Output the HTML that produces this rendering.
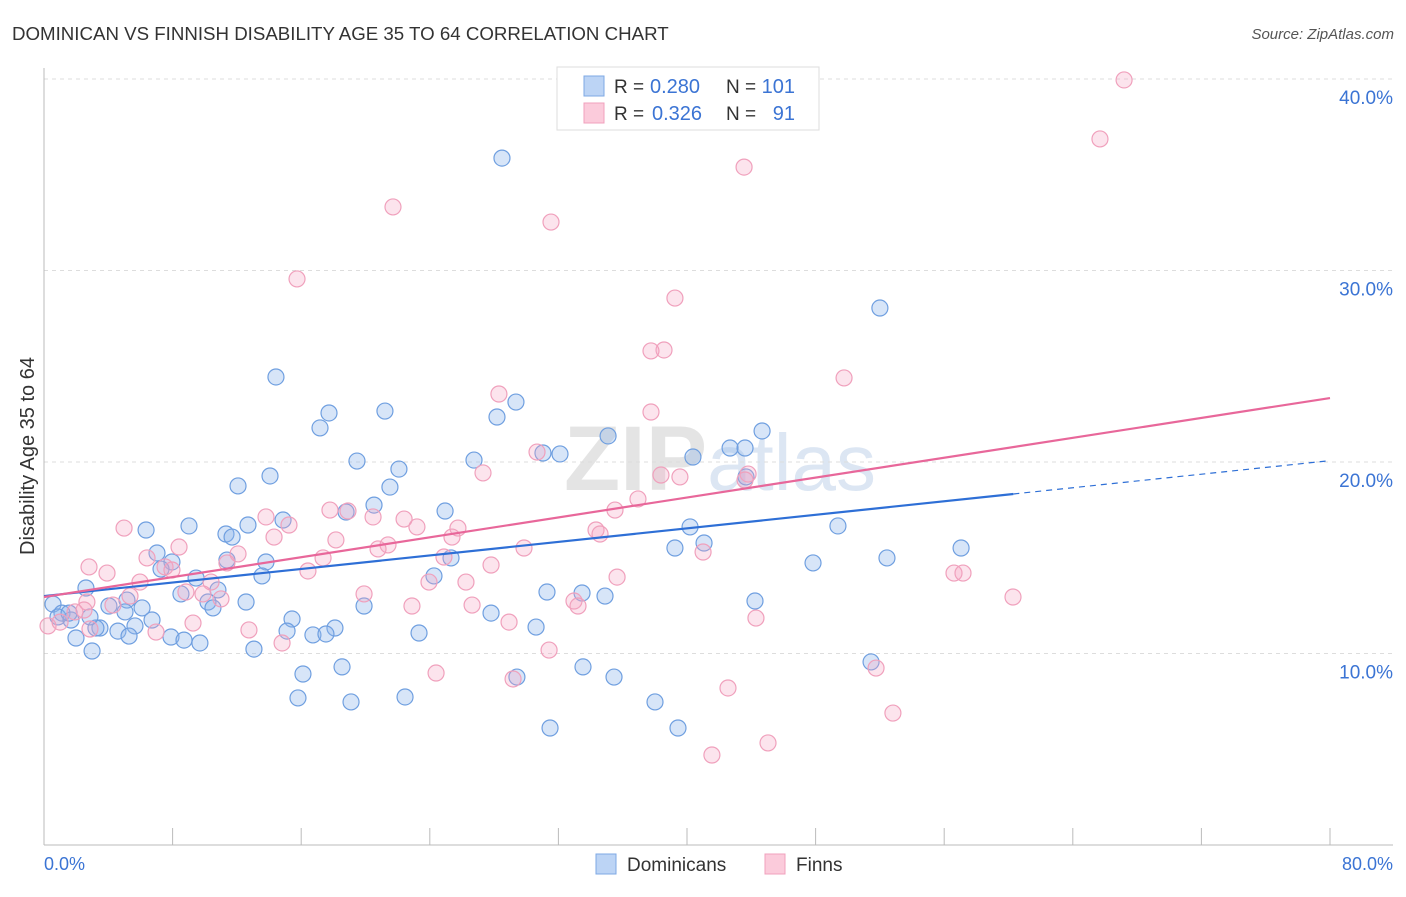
<!DOCTYPE html>
<html><head><meta charset="utf-8">
<style>
body{margin:0;background:#fff;font-family:"Liberation Sans",sans-serif;}
svg text{font-family:"Liberation Sans",sans-serif;}
</style></head><body>
<svg id="chart" width="1406" height="892" xmlns="http://www.w3.org/2000/svg">
<text x="12" y="40" font-size="18.7" fill="#333">DOMINICAN VS FINNISH DISABILITY AGE 35 TO 64 CORRELATION CHART</text>
<text x="1394" y="39" font-size="15" fill="#555" text-anchor="end" font-style="italic">Source: ZipAtlas.com</text>
<text x="720" y="490" font-size="92" fill="#e4e4e4" text-anchor="middle" font-weight="bold">ZIP<tspan fill="#dce6f3" font-weight="normal" font-size="80">atlas</tspan></text>
<g id="grid"></g>
<g id="axes"></g>
<g id="points"></g>
<g id="lines"></g>
<text transform="translate(34,456) rotate(-90)" font-size="20" fill="#333" text-anchor="middle">Disability Age 35 to 64</text>
<text x="44" y="870" font-size="18" fill="#3b74d4">0.0%</text>
<text x="1393" y="870" font-size="18" fill="#3b74d4" text-anchor="end">80.0%</text>
<g>
<rect x="557" y="67" width="262" height="63" fill="#fff" stroke="#ddd"/>
<rect x="584" y="76" width="20" height="20" fill="#bcd4f5" stroke="#7ea8e4"/>
<rect x="584" y="103" width="20" height="20" fill="#fbcbdb" stroke="#f0a0bc"/>
<text x="614" y="93" font-size="19" fill="#333">R =</text>
<text x="650" y="93" font-size="20" fill="#3b74d4">0.280</text>
<text x="726" y="93" font-size="19" fill="#333">N =</text>
<text x="795" y="93" font-size="20" fill="#3b74d4" text-anchor="end">101</text>
<text x="614" y="120" font-size="19" fill="#333">R =</text>
<text x="652" y="120" font-size="20" fill="#3b74d4">0.326</text>
<text x="726" y="120" font-size="19" fill="#333">N =</text>
<text x="795" y="120" font-size="20" fill="#3b74d4" text-anchor="end">91</text>
</g>
<g>
<rect x="596" y="854" width="20" height="20" fill="#bcd4f5" stroke="#7ea8e4"/>
<text x="627" y="871" font-size="19" fill="#333">Dominicans</text>
<rect x="765" y="854" width="20" height="20" fill="#fbcbdb" stroke="#f0a0bc"/>
<text x="796" y="871" font-size="19" fill="#333">Finns</text>
</g>
</svg>
<script>
const yTicks=[10,20,30,40];
const yTickLabels=["10.0%","20.0%","30.0%","40.0%"];
const xTicks=[0,8,16,24,32,40,48,56,64,72,80];
const blueX=[28.49,52.0,14.43,17.73,21.21,28.18,29.36,17.17,35.09,44.67,42.68,43.61,40.37,19.47,26.75,31.04,32.10,22.08,14.06,43.67,12.07,21.52,20.53,18.79,24.95,9.02,6.35,12.69,14.87,11.32,11.70,40.19,49.39,41.06,39.25,57.05,7.03,11.38,13.81,7.96,7.28,52.44,47.84,25.32,24.26,13.56,9.46,2.61,8.52,10.82,31.29,33.47,34.90,44.23,10.20,12.57,5.16,4.04,0.56,1.12,6.10,19.91,10.51,0.87,1.68,6.72,15.43,27.81,5.66,3.48,3.23,4.60,18.10,30.61,1.99,5.29,7.90,15.12,16.73,17.54,23.33,8.71,9.70,2.99,13.06,51.45,18.54,33.53,16.11,29.42,35.46,15.80,22.46,19.10,38.01,31.48,39.44,1.56,2.86,5.04];
const blueY=[35.87,28.04,24.44,22.56,22.66,22.35,23.13,21.78,21.36,21.62,20.73,20.73,20.26,20.05,20.10,20.47,20.42,19.63,19.27,19.22,18.75,18.69,17.75,17.39,17.44,16.66,16.45,16.71,16.97,16.24,16.08,16.61,16.66,15.77,15.51,15.51,15.25,14.88,14.78,14.78,14.41,14.99,14.73,14.99,14.05,14.05,13.94,13.42,13.11,13.32,13.21,13.16,13.00,12.74,12.69,12.69,12.79,12.48,12.58,12.11,12.38,12.48,12.38,11.91,11.75,11.75,11.80,12.11,11.44,11.33,11.33,11.17,11.33,11.38,10.81,10.91,10.86,11.17,10.97,11.02,11.07,10.70,10.55,10.13,10.23,9.56,9.30,9.30,8.93,8.77,8.77,7.68,7.73,7.47,7.47,6.11,6.11,12.11,11.91,12.17];
const pinkX=[67.19,65.69,43.55,21.71,31.54,15.74,39.25,38.57,37.76,49.77,28.30,37.76,30.67,27.31,38.38,39.56,43.80,43.61,36.95,35.52,4.98,17.79,13.81,15.24,20.47,22.40,18.91,23.20,25.75,25.38,34.34,34.59,14.31,18.16,21.40,8.40,12.07,20.78,29.86,41.00,6.41,17.36,7.53,24.88,2.80,3.92,7.96,11.38,16.42,27.81,5.97,10.39,35.65,23.95,26.25,56.61,57.17,60.28,8.83,9.89,19.91,11.01,5.35,2.67,26.63,22.89,32.97,33.22,2.49,4.29,28.93,9.27,44.29,12.75,6.97,2.86,0.25,1.00,14.81,31.42,51.76,24.39,29.18,42.55,52.81,45.04,41.55,1.93];
const pinkY=[39.95,36.87,35.40,33.32,32.53,29.56,28.56,25.85,25.80,24.39,23.55,22.61,20.52,19.43,19.32,19.22,19.37,19.06,18.07,17.49,16.55,17.49,17.13,16.71,17.13,17.02,17.44,16.61,16.55,16.08,16.45,16.24,16.08,15.93,15.67,15.56,15.20,15.46,15.51,15.30,14.99,14.99,14.52,15.04,14.52,14.20,14.36,14.73,14.31,14.62,13.73,13.73,13.99,13.73,13.73,14.20,14.20,12.95,13.21,13.11,13.11,12.85,13.00,12.69,12.53,12.48,12.74,12.48,12.27,12.53,11.64,11.59,11.85,11.23,11.12,11.28,11.44,11.64,10.55,10.18,9.24,8.98,8.67,8.20,6.89,5.33,4.70,12.17];
const blueTrend=[13.0,18.33,20.07];
const blueTrendX=[0,60.3,80];
const pinkTrend=[12.95,23.34];
const pinkTrendX=[0,80];

const NS="http://www.w3.org/2000/svg";
const sx=v=>44+v*16.075;
const sy=v=>845-v*19.15;
function mk(tag,attrs,parent){const e=document.createElementNS(NS,tag);for(const k in attrs)e.setAttribute(k,attrs[k]);parent.appendChild(e);return e;}
const gridG=document.getElementById('grid'),axesG=document.getElementById('axes'),ptsG=document.getElementById('points'),linesG=document.getElementById('lines');
yTicks.forEach((t,i)=>{
  const l=mk('line',{x1:44,x2:1393,y1:sy(t),y2:sy(t),stroke:'#ddd','stroke-dasharray':'4,4'},gridG);
  
  
  const tx=mk('text',{x:1393,y:sy(t)+25,'font-size':19,fill:'#3b74d4','text-anchor':'end'},gridG);
  tx.textContent=yTickLabels[i];
  
  
});
const ya=mk('line',{x1:44,x2:44,y1:68,y2:845,stroke:'#bbb'},axesG);


const xa=mk('line',{x1:44,x2:1393,y1:845,y2:845,stroke:'#bbb'},axesG);


xTicks.forEach(t=>{
  const l=mk('line',{x1:sx(t),x2:sx(t),y1:828,y2:845,stroke:'#bbb'},axesG);
  
  
});
blueX.forEach((x,i)=>{
  const c=mk('circle',{cx:sx(x),cy:sy(blueY[i]),r:8,fill:'rgba(140,180,235,0.35)',stroke:'#6f9fe0','stroke-width':1.2},ptsG);
  
  
});
pinkX.forEach((x,i)=>{
  const c=mk('circle',{cx:sx(x),cy:sy(pinkY[i]),r:8,fill:'rgba(245,165,195,0.3)',stroke:'#f0a0bc','stroke-width':1.2},ptsG);
  
  
});
const bl=mk('line',{x1:sx(blueTrendX[0]),y1:sy(blueTrend[0]),x2:sx(blueTrendX[1]),y2:sy(blueTrend[1]),stroke:'#2e6fd6','stroke-width':2.2},linesG);


const bd=mk('line',{x1:sx(blueTrendX[1]),y1:sy(blueTrend[1]),x2:sx(blueTrendX[2]),y2:sy(blueTrend[2]),stroke:'#2e6fd6','stroke-width':1.2,'stroke-dasharray':'6,5'},linesG);


const pl=mk('line',{x1:sx(pinkTrendX[0]),y1:sy(pinkTrend[0]),x2:sx(pinkTrendX[1]),y2:sy(pinkTrend[1]),stroke:'#e8679a','stroke-width':2.2},linesG);


</script>
</body></html>
